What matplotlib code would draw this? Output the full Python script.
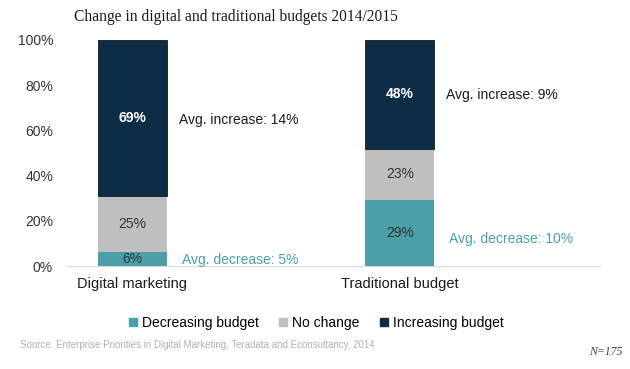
import numpy as np
import matplotlib.pyplot as plt
from matplotlib.patches import Patch

# data
categories = ['Digital marketing', 'Traditional budget']
decreasing = [6, 29]
no_change = [25, 23]
increasing = [69, 48]
avg_increase = ['Avg. increase: 14%', 'Avg. increase: 9%']
avg_decrease = ['Avg. decrease: 5%', 'Avg. decrease: 10%']
inc_label_y = [64.5, 75.5]
dec_label_y = [2.7, 12]

c_dec = '#4a9fa9'
c_none = '#bfbfbf'
c_inc = '#0c2d45'

plt.rcParams['font.family'] = ['Liberation Sans', 'DejaVu Sans']

fig = plt.figure(figsize=(6.3, 3.69), dpi=100)
ax = fig.add_axes([0.1063, 0.279, 0.8457, 0.6126])

x = np.arange(len(categories))
w = 0.258
dec = np.array(decreasing)
nc = np.array(no_change)
inc = np.array(increasing)

ax.bar(x, dec, w, color=c_dec, label='Decreasing budget')
ax.bar(x, nc, w, bottom=dec, color=c_none, label='No change')
ax.bar(x, inc, w, bottom=dec + nc, color=c_inc, edgecolor='#1a1a1a', linewidth=0.6,
       label='Increasing budget')

# segment labels
for i in range(len(x)):
    ax.text(x[i], dec[i] / 2, f'{dec[i]}%', ha='center', va='center', fontsize=10, color='#333333')
    ax.text(x[i], dec[i] + nc[i] / 2, f'{nc[i]}%', ha='center', va='center', fontsize=10, color='#333333')
    ax.text(x[i], dec[i] + nc[i] + inc[i] / 2, f'{inc[i]}%', ha='center', va='center',
            fontsize=10, color='white', fontweight='bold')
    ax.text(x[i] + w / 2 + 0.045, inc_label_y[i], avg_increase[i], ha='left', va='center',
            fontsize=10, color='#1a1a1a')
    ax.text(x[i] + w / 2 + 0.055, dec_label_y[i], avg_decrease[i], ha='left', va='center',
            fontsize=10, color=c_dec)

ax.set_xlim(-0.245, 1.748)
ax.set_ylim(0, 100)
ax.set_yticks([0, 20, 40, 60, 80, 100])
ax.set_yticklabels([f'{v}%' for v in [0, 20, 40, 60, 80, 100]], fontsize=10, color='#333333')
ax.set_xticks(x)
ax.set_xticklabels(categories, fontsize=10.5, color='#1a1a1a')
ax.tick_params(axis='both', length=0)
ax.tick_params(axis='y', pad=10)
ax.tick_params(axis='x', pad=8)
for s in ['top', 'right', 'left']:
    ax.spines[s].set_visible(False)
ax.spines['bottom'].set_color('#d9d9d9')
ax.spines['bottom'].set_linewidth(0.8)

fig.text(0.375, 0.955, 'Change in digital and traditional budgets 2014/2015',
         ha='center', va='center', fontsize=11.2, family='Liberation Serif', color='#1a1a1a')

handles = [Patch(color=c_dec), Patch(color=c_none), Patch(color=c_inc)]
fig.legend(handles, ['Decreasing budget', 'No change', 'Increasing budget'],
           loc='center', bbox_to_anchor=(0.502, 0.125), ncol=3, frameon=False,
           fontsize=10, handlelength=0.55, handleheight=0.55, handletextpad=0.35,
           columnspacing=1.5)

fig.text(0.032, 0.065, 'Source: Enterprise Priorities in Digital Marketing, Teradata and Econsultancy, 2014',
         ha='left', va='center', fontsize=7, color='#b0b0b0')
fig.text(0.988, 0.045, 'N=175', ha='right', va='center', fontsize=8.5, style='italic',
         family='Liberation Serif', color='#444444')

fig.savefig('out.png', dpi=100)
